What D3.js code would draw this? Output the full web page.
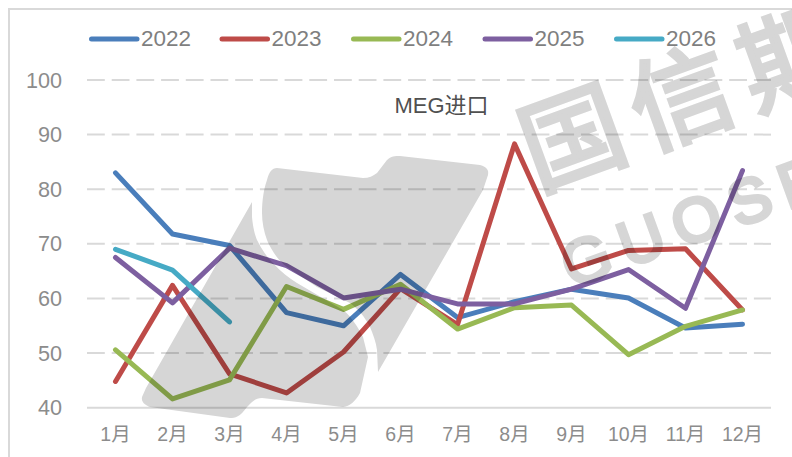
<!DOCTYPE html>
<html><head><meta charset="utf-8">
<script src="https://cdn.jsdelivr.net/npm/d3@7"></script>
<style>html,body{margin:0;padding:0;background:#fff}svg{display:block;filter:blur(0.45px)}text{font-family:"Liberation Sans","Noto Sans CJK SC",sans-serif}</style>
</head><body><div id="chart"></div>
<script>
const months=["1月","2月","3月","4月","5月","6月","7月","8月","9月","10月","11月","12月"];
const years=["2022","2023","2024","2025","2026"];
const colors=["#4a7ebb","#be4b48","#98b954","#7d5fa0","#46aac5"];
const v2022=[83,71.8,69.7,57.4,55,64.4,56.5,59.4,61.7,60.1,54.6,55.3];
const v2023=[44.8,62.4,46.2,42.7,50.2,61.8,55.2,88.3,65.4,68.8,69.1,57.9];
const v2024=[50.6,41.6,45.1,62.2,58,62.6,54.4,58.3,58.8,49.7,54.9,57.9];
const v2025=[67.5,59.2,69.2,66,60.1,61.7,59,59,61.7,65.3,58.2,83.4];
const v2026=[69,65.2,55.7];
const series=[v2022,v2023,v2024,v2025,v2026];
const yTicks=[40,50,60,70,80,90,100];
const W=792,H=457;
const svg=d3.select("#chart").append("svg").attr("width",W).attr("height",H);
svg.append("rect").attr("width",W).attr("height",H).attr("fill","#fff");
svg.append("path").attr("d","M9,457V9H792").attr("fill","none").attr("stroke","#d9d9d9").attr("stroke-width",2);
const x=d3.scaleBand().domain(months).range([87,771]);
const y=d3.scaleLinear().domain([40,100]).range([407.7,80]);
const cx=m=>x(m)+x.bandwidth()/2;
svg.append("g").selectAll("line").data(yTicks).join("line")
 .attr("x1",87).attr("x2",771).attr("y1",d=>y(d)).attr("y2",d=>y(d))
 .attr("stroke","#d9d9d9").attr("stroke-width",2)
 .attr("stroke-dasharray",d=>d===40?null:"17.8,6.9");
svg.append("g").selectAll("text").data(yTicks).join("text")
 .attr("x",62).attr("y",d=>y(d)+7.5).attr("text-anchor","end")
 .attr("font-size",21.6).attr("fill","#8c8c8c").text(d=>d);
svg.append("g").selectAll("text").data(months).join("text")
 .attr("x",cx).attr("y",441).attr("text-anchor","middle")
 .attr("font-size",19.5).attr("fill","#8c8c8c").text(d=>d);
const line=d3.line().x((d,i)=>cx(months[i])).y(d=>y(d));
svg.append("g").selectAll("path").data(series).join("path")
 .attr("d",line).attr("fill","none").attr("stroke",(d,i)=>colors[i])
 .attr("stroke-width",5).attr("stroke-linecap","round").attr("stroke-linejoin","round");
const lx=[91.5,222,353.5,485,616.5];
const lg=svg.append("g").selectAll("g").data(years).join("g");
lg.append("line").attr("x1",(d,i)=>lx[i]).attr("x2",(d,i)=>lx[i]+45.5).attr("y1",39).attr("y2",39)
 .attr("stroke",(d,i)=>colors[i]).attr("stroke-width",5).attr("stroke-linecap","round");
lg.append("text").attr("x",(d,i)=>lx[i]+49.5).attr("y",45.5).attr("font-size",22.5).attr("fill","#7f7f7f").text(d=>d);
svg.append("text").attr("x",441.5).attr("y",112.5).attr("text-anchor","middle").attr("font-size",22).attr("fill","#505050").text("MEG进口");
const wm=svg.append("g").style("mix-blend-mode","multiply");
wm.append("path").attr("fill","#d6d6d6").attr("d","M252,202L252,217C253,228 255,235 257,240C262,250 267,257 273,263C281,272 289,278 297,283L343,310C353,318 358,328 363,337L368,357L360,393C355,402 350,406 343,407L262,398C255,398 252,402 247,407C240,417 235,418 230,418L150,407C145,405 141,402 142,397L146,388Z");
wm.append("path").attr("fill","#d6d6d6").attr("d","M262,213C262,200 264,188 267,180C269,172 272,168 277,168L363,178C369,178 373,176 377,173L387,160C391,156 395,156 400,156L480,165C487,167 489,170 488,175L483,190L378,372L377,350C376,342 373,334 370,327C365,317 358,309 350,303L317,287L287,267C280,262 272,252 267,240C264,232 262,222 262,213Z");
const wmText=wm.append("g").attr("fill","#d6d6d6").attr("stroke","#d6d6d6");
wmText.append("text").attr("transform","translate(537,190) rotate(-20)").attr("font-size",102).attr("letter-spacing",14).attr("stroke-width",4).text("国信期");
wmText.append("text").attr("transform","translate(571,288) rotate(-20)").attr("font-size",62).attr("letter-spacing",12).attr("stroke-width",4).text("GUOSEN");
</script></body></html>
